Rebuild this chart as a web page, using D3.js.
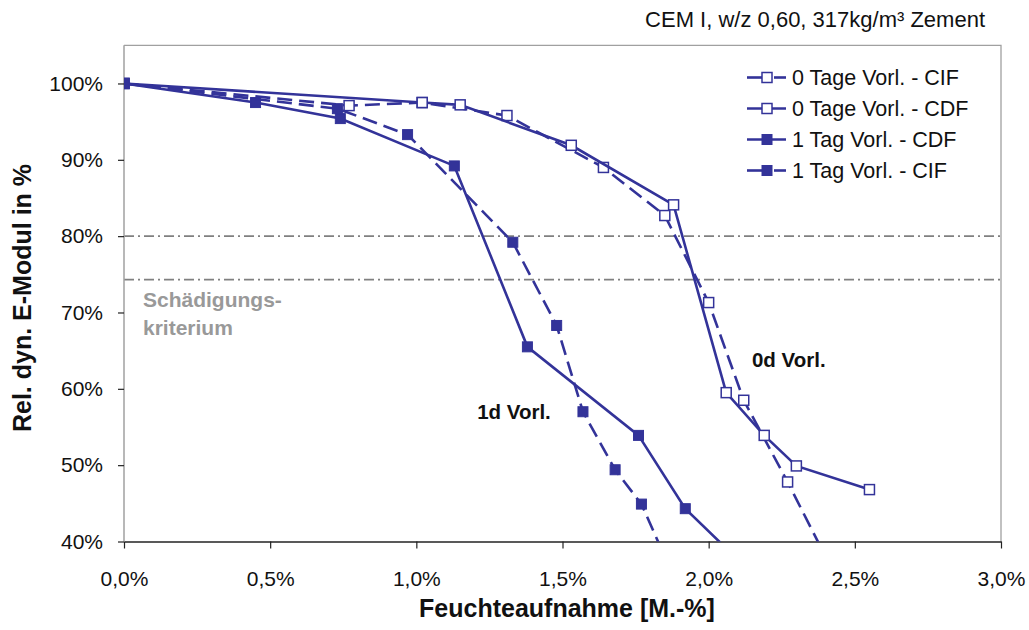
<!DOCTYPE html>
<html>
<head>
<meta charset="utf-8">
<script src="https://cdn.jsdelivr.net/npm/d3@7"></script>
<style>
  html, body { margin: 0; padding: 0; background: #fff; }
  svg { display: block; font-family: "Liberation Sans", Arial, sans-serif; }
</style>
</head>
<body>
<svg id="chart" width="1029" height="630"></svg>
<script>
// ---- data ----
const seriesNames = ["0 Tage Vorl. - CIF", "0 Tage Vorl. - CDF", "1 Tag Vorl. - CDF", "1 Tag Vorl. - CIF"];

const x0CIF = [0, 0.77, 1.02, 1.31, 1.64, 1.85, 2.00, 2.12, 2.27, 2.40];
const y0CIF = [100, 97.1, 97.5, 95.8, 89.0, 82.7, 71.3, 58.5, 47.8, 38.0];

const x0CDF = [0, 1.02, 1.15, 1.53, 1.88, 2.06, 2.19, 2.30, 2.55];
const y0CDF = [100, 97.5, 97.2, 91.9, 84.1, 59.5, 53.9, 49.9, 46.8];

const x1CDF = [0, 0.45, 0.74, 1.13, 1.38, 1.76, 1.92, 2.09];
const y1CDF = [100, 97.5, 95.4, 89.2, 65.5, 53.9, 44.3, 38.0];

const x1CIF = [0, 0.73, 0.97, 1.33, 1.48, 1.57, 1.68, 1.77, 1.85];
const y1CIF = [100, 96.7, 93.3, 79.2, 68.3, 57.0, 49.4, 44.9, 38.0];

const xTicks = [0, 0.5, 1.0, 1.5, 2.0, 2.5, 3.0];
const yTicks = [40, 50, 60, 70, 80, 90, 100];
const refLines = [80, 74.3];

const titleText = "CEM I, w/z 0,60, 317kg/m³ Zement";
const xTitle = "Feuchteaufnahme [M.-%]";
const yTitle = "Rel. dyn. E-Modul in %";
const critLabel = ["Schädigungs-", "kriterium"];
const curveLabels = [{text: "0d Vorl.", x: 2.148, y: 62.8}, {text: "1d Vorl.", x: 1.208, y: 56.0}];

// ---- layout ----
const L = 124, R = 1001, T = 45.3, B = 541.5;
const COLOR = "#333399";
const svg = d3.select("#chart");

const x = d3.scaleLinear().domain([0, 3]).range([L, R]);
const y = d3.scaleLinear().domain([40, 105]).range([B, T]);

const series = [
  {name: seriesNames[0], xs: x0CIF, ys: y0CIF, filled: false, dashed: true},
  {name: seriesNames[1], xs: x0CDF, ys: y0CDF, filled: false, dashed: false},
  {name: seriesNames[2], xs: x1CDF, ys: y1CDF, filled: true, dashed: false},
  {name: seriesNames[3], xs: x1CIF, ys: y1CIF, filled: true, dashed: true}
];

svg.append("defs").append("clipPath").attr("id", "plotclip")
  .append("rect").attr("x", L).attr("y", T).attr("width", R - L).attr("height", B - T);

// plot border (top/right grey)
svg.append("path")
  .attr("d", `M${L},${T}H${R}V${B}`)
  .attr("fill", "none").attr("stroke", "#a0a0a0").attr("stroke-width", 1.3);

// reference lines
svg.append("g").selectAll("line").data(refLines).join("line")
  .attr("x1", L).attr("x2", R)
  .attr("y1", d => y(d)).attr("y2", d => y(d))
  .attr("stroke", "#808080").attr("stroke-width", 1.6)
  .attr("stroke-dasharray", "10,4,2,4");

// axes
const fmtX = d => d3.format(".1f")(d).replace(".", ",") + "%";
const xAxis = svg.append("g").attr("transform", `translate(0,${B})`)
  .call(d3.axisBottom(x).tickValues(xTicks).tickFormat(fmtX).tickSizeInner(7).tickSizeOuter(0).tickPadding(23));
xAxis.select(".domain").attr("stroke", "#222").attr("stroke-width", 1.5);
xAxis.selectAll(".tick line").attr("stroke", "#222").attr("stroke-width", 1.2);
xAxis.selectAll("text").attr("font-size", 21).attr("fill", "#111").attr("font-family", "Liberation Sans, Arial, sans-serif");

const yAxis = svg.append("g").attr("transform", `translate(${L},0)`)
  .call(d3.axisLeft(y).tickValues(yTicks).tickFormat(d => d + "%").tickSizeInner(6).tickSizeOuter(0).tickPadding(15));
yAxis.select(".domain").attr("d", `M0,${T}V${B}`).attr("stroke", "#a0a0a0").attr("stroke-width", 1.5);
yAxis.selectAll(".tick line").attr("stroke", "#222").attr("stroke-width", 1.2);
yAxis.selectAll("text").attr("font-size", 21).attr("fill", "#111").attr("font-family", "Liberation Sans, Arial, sans-serif");

// series
const plot = svg.append("g").attr("clip-path", "url(#plotclip)");
const line = d3.line().x(d => x(d[0])).y(d => y(d[1]));
const MS = 10;
series.forEach(s => {
  const pts = s.xs.map((v, i) => [v, s.ys[i]]);
  plot.append("path").datum(pts)
    .attr("d", line).attr("fill", "none")
    .attr("stroke", COLOR).attr("stroke-width", 2.6)
    .attr("stroke-dasharray", s.dashed ? "15,7" : null);
  plot.append("g").selectAll("rect").data(pts).join("rect")
    .attr("x", d => x(d[0]) - MS / 2).attr("y", d => y(d[1]) - MS / 2)
    .attr("width", MS).attr("height", MS)
    .attr("fill", s.filled ? COLOR : "#fff")
    .attr("stroke", COLOR).attr("stroke-width", s.filled ? 1 : 1.5);
});

// legend
const legY = [77.5, 108.5, 139.5, 170.5];
const leg = svg.append("g");
series.forEach((s, i) => {
  const g = leg.append("g").attr("transform", `translate(0,${legY[i]})`);
  if (s.dashed) {
    g.append("line").attr("x1", 747).attr("x2", 762).attr("y1", 0).attr("y2", 0)
      .attr("stroke", COLOR).attr("stroke-width", 2.6);
    g.append("line").attr("x1", 774).attr("x2", 786).attr("y1", 0).attr("y2", 0)
      .attr("stroke", COLOR).attr("stroke-width", 2.6);
  } else {
    g.append("line").attr("x1", 747).attr("x2", 786).attr("y1", 0).attr("y2", 0)
      .attr("stroke", COLOR).attr("stroke-width", 2.6);
  }
  g.append("rect").attr("x", 767 - MS / 2).attr("y", -MS / 2).attr("width", MS).attr("height", MS)
    .attr("fill", s.filled ? COLOR : "#fff").attr("stroke", COLOR).attr("stroke-width", s.filled ? 1 : 1.5);
  g.append("text").attr("x", 792).attr("y", 7.5).attr("font-size", 21.5).attr("fill", "#111")
    .text(s.name);
});

// title
svg.append("text").attr("x", 985).attr("y", 27).attr("text-anchor", "end")
  .attr("font-size", 22).attr("fill", "#111").text(titleText);

// axis titles
svg.append("text").attr("x", 567).attr("y", 617).attr("text-anchor", "middle")
  .attr("font-size", 25).attr("font-weight", "bold").attr("fill", "#111").text(xTitle);
svg.append("text").attr("transform", "translate(31,298) rotate(-90)").attr("text-anchor", "middle")
  .attr("font-size", 25).attr("font-weight", "bold").attr("fill", "#111").text(yTitle);

// annotations
svg.append("text").attr("x", 143).attr("y", 307).attr("font-size", 21).attr("font-weight", "bold")
  .attr("fill", "#999").text(critLabel[0]);
svg.append("text").attr("x", 143).attr("y", 335).attr("font-size", 21).attr("font-weight", "bold")
  .attr("fill", "#999").text(critLabel[1]);
curveLabels.forEach(c => {
  svg.append("text").attr("x", x(c.x)).attr("y", y(c.y)).attr("font-size", 20.5).attr("font-weight", "bold")
    .attr("fill", "#111").text(c.text);
});
</script>
</body>
</html>
